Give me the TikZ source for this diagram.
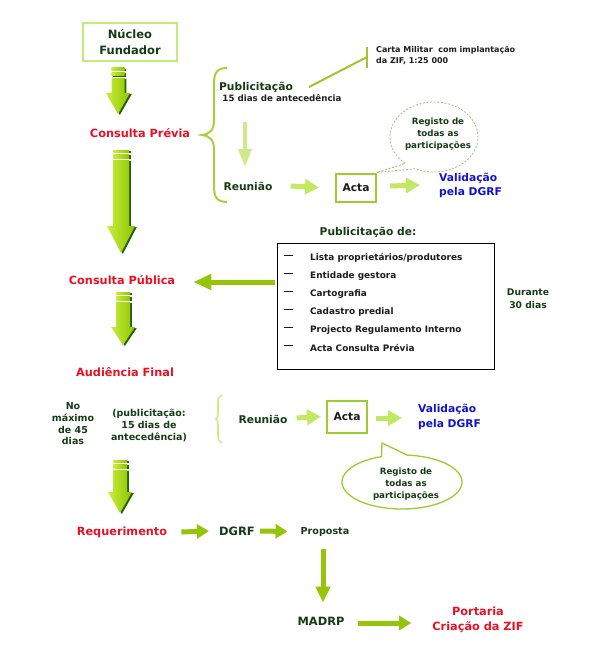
\documentclass[tikz,border=0pt]{standalone}
\usepackage{fontspec}
\setmainfont{DejaVu Sans}
\usetikzlibrary{arrows.meta,calc}
\definecolor{dg}{RGB}{22,60,22}
\definecolor{ink}{RGB}{28,28,28}
\definecolor{rd}{RGB}{232,16,36}
\definecolor{bl}{RGB}{18,18,205}
\definecolor{boxlg}{RGB}{195,235,120}
\definecolor{boxg}{RGB}{155,205,45}
\definecolor{brc}{RGB}{165,210,60}
\definecolor{brc2}{RGB}{205,235,140}
\definecolor{lnk}{RGB}{165,195,45}
\definecolor{arL}{RGB}{195,232,100}
\definecolor{arS}{RGB}{150,196,10}
\definecolor{blkA}{RGB}{200,238,60}
\definecolor{blkB}{RGB}{140,196,0}
\definecolor{blkD}{RGB}{38,96,10}
\definecolor{dashc}{RGB}{175,185,120}
\newcommand\fs[2]{\fontsize{#1}{#2}\selectfont\bfseries}
\newcommand\blkarrow[6]{%
  \fill[blkD] ({#1-#5+1.8},{#2+0.8}) rectangle ({#1+#5+1.8},{#2+3.3});
  \fill[blkD] ({#1-#5+1.8},{#2+5.3}) rectangle ({#1+#5+1.8},{#2+8.8});
  \fill[blkD] ({#1-#5+1.8},{#2+10.8}) -- ({#1+#5+1.8},{#2+10.8}) -- ({#1+#5+1.8},{#3+1}) -- ({#1+#6+1.8},{#3+1}) -- ({#1+1.8},{#4+1}) -- ({#1-#6+1.8},{#3+1}) -- ({#1-#5+1.8},{#3+1}) -- cycle;
  \shade[left color=blkA,right color=blkB] ({#1-#5},{#2}) rectangle ({#1+#5},{#2+2.5});
  \shade[left color=blkA,right color=blkB] ({#1-#5},{#2+4.5}) rectangle ({#1+#5},{#2+8});
  \shade[left color=blkA,right color=blkB] ({#1-#5},{#2+10}) -- ({#1+#5},{#2+10}) -- ({#1+#5},{#3}) -- ({#1+#6},{#3}) -- ({#1},{#4}) -- ({#1-#6},{#3}) -- ({#1-#5},{#3}) -- cycle;
}
\tikzset{
  tx/.style={inner sep=0pt, align=center},
  hd/.style={tx, font=\fs{11.3}{15}, text=rd},
  md/.style={tx, font=\fs{10.7}{14.5}, text=dg},
  sm/.style={tx, font=\fs{8.7}{12}, text=dg},
  itm/.style={inner sep=0pt, anchor=west, font=\fs{8.9}{11}, text=ink},
  actabox/.style={md, text=ink, draw=boxg, line width=2pt, minimum width=40pt},
  arrL/.style={arL, line width=5pt, -{Triangle[width=15pt,length=14pt]}},
  arrS/.style={arS, line width=5pt, -{Triangle[width=14pt,length=12pt]}},
}
\begin{document}
\begin{tikzpicture}[x=1pt,y=-1pt]
\useasboundingbox (0,0) rectangle (595,658);
\fill[white] (0,0) rectangle (595,658);

% ---------- nodes ----------
\node[tx, font=\fs{11.5}{16.5}, text=dg, draw=boxlg, line width=2.2pt,
      minimum width=94pt, minimum height=38pt] (nucleo) at (130,42) {Núcleo\\Fundador};
\node[hd] (cprev) at (140,133) {Consulta Prévia};
\node[md] (publ) at (256,87) {Publicitação};
\node[sm, font=\fs{8.7}{11}, text=ink!80!dg] (antec) at (282,98.5) {15 dias de antecedência};
\node[tx, anchor=west, align=left, font=\fs{8}{11}, text=ink] (carta) at (376,55.5) {Carta Militar\ \ com implantação\\da ZIF, 1:25 000};
\node[md] (reu1) at (248,186) {Reunião};
\node[actabox, minimum height=28pt] (acta1) at (356,187.5) {Acta};
\node[md, text=bl, anchor=west, align=left] (val1) at (439,185.5) {Validação\\pela DGRF};
\node[sm] (b1t) at (438,134) {Registo de\\todas as\\participações};

\node[hd] (cpub) at (122,280) {Consulta Pública};
\node[md] (pubde) at (368,232) {Publicitação de:};
\draw[black, line width=0.9pt] (277,243) rectangle (494,369);
\node[inner sep=0pt, minimum width=217pt, minimum height=126pt] (listbox) at (385.5,306) {};
\foreach \i/\yy/\t in {1/258/{Lista proprietários/produtores},
                       2/276/{Entidade gestora},
                       3/294/{Cartografia},
                       4/312/{Cadastro predial},
                       5/330/{Projecto Regulamento Interno},
                       6/348/{Acta Consulta Prévia}}{
  \node[itm] (it\i) at (310,\yy) {\t};
  \draw[ink, line width=0.8pt] (284,\yy-2.5) -- (293,\yy-2.5);
}
\node[sm, font=\fs{9.2}{12.7}] (durante) at (528,298.5) {Durante\\30 dias};

\node[hd] (aud) at (125,372) {Audiência Final};
\node[sm, font=\fs{9.5}{11.6}] (nomax) at (73,424) {No\\máximo\\de 45\\dias};
\node[sm, font=\fs{9.5}{11.6}] (pub15) at (149,425.5) {(publicitação:\\15 dias de\\antecedência)};
\node[md] (reu2) at (263,419) {Reunião};
\node[actabox, minimum height=32pt] (acta2) at (347,416.5) {Acta};
\node[md, text=bl, anchor=west, align=left] (val2) at (418,417) {Validação\\pela DGRF};
\node[sm] (b2t) at (406,484) {Registo de\\todas as\\participações};

\node[hd] (req) at (122,532) {Requerimento};
\node[md, font=\fs{11.5}{14}] (dgrf) at (237,531) {DGRF};
\node[sm, font=\fs{9.6}{12}] (prop) at (325,532) {Proposta};
\node[md, font=\fs{11.4}{14}] (madrp) at (321,621) {MADRP};
\node[hd] (port) at (478,619.5) {Portaria\\Criação da ZIF};

% ---------- block arrows ----------
\blkarrow{118}{68}{93}{114}{6.5}{12}
\blkarrow{121}{150}{226}{253}{8}{14}
\blkarrow{123}{292}{327}{345}{7}{12}
\blkarrow{120}{460}{492}{513}{7}{12}

% ---------- braces and callouts ----------
\draw[brc, line width=2pt] (227,68) .. controls (216,68) and (214,74) .. (214,84)
  -- (214,120) .. controls (214,130) and (210,134) .. (202,135)
  .. controls (210,136) and (214,140) .. (214,150)
  -- (214,186) .. controls (214,196) and (216,202) .. (227,202);
\draw[brc2, line width=1.6pt] (222,395) .. controls (219,396) and (218,398) .. (218,403)
  -- (218,414) .. controls (218,417) and (217,418.5) .. (216,419)
  .. controls (217,419.5) and (218,421) .. (218,424)
  -- (218,435) .. controls (218,440) and (219,442) .. (222,443);

\coordinate (cbar) at (367,57);
\draw[lnk, line width=2pt] ($(publ.east)+(16,0)$) -- (cbar);
\draw[lnk, line width=2.5pt] ($(cbar)+(0,-10)$) -- ($(cbar)+(0,11)$);

\draw[dashc, line width=0.8pt, dash pattern=on 2pt off 1.6pt]
  plot[domain=131:475,samples=100] ({434+44*cos(\x)},{137+35*sin(\x)}) -- (acta1.north east) -- cycle;
\draw[boxg, line width=1.3pt]
  plot[domain=275:610,samples=100] ({402+60*cos(\x)},{482+27*sin(\x)}) -- ($(acta2.south)+(35,9.5)$) -- cycle;

% ---------- arrows ----------
\draw[brc2, line width=4pt, -{Triangle[width=13pt,length=18pt]}] (245,122) -- (245,167);
\draw[arrL] ($(reu1.east)+(18,0)$) -- ($(acta1.west)+(-16,0)$);
\draw[arrL] ($(acta1.east)+(13,-1.5)$) -- ($(val1.west)+(-19,-0.5)$);
\draw[arrS, -{Triangle[width=15pt,length=18pt]}] ($(listbox.west)+(-2,-24)$) -- ($(cpub.east)+(18,2)$);
\draw[arrL] ($(reu2.east)+(9,-1)$) -- ($(acta2.west)+(-5,0)$);
\draw[arrL] ($(acta2.east)+(8,1.5)$) -- ($(val2.west)+(-16,1)$);
\draw[arrS] ($(req.east)+(14,0)$) -- ($(dgrf.west)+(-10,0)$);
\draw[arrS] ($(dgrf.east)+(5,0)$) -- ($(prop.west)+(-13,-0.5)$);
\draw[arrS, -{Triangle[width=14pt,length=16pt]}] ($(prop.south)+(-2,12)$) -- ($(madrp.north)+(2,-14)$);
\draw[arrS] ($(madrp.east)+(13,2)$) -- ($(port.west)+(-21,3.5)$);
\end{tikzpicture}
\end{document}
